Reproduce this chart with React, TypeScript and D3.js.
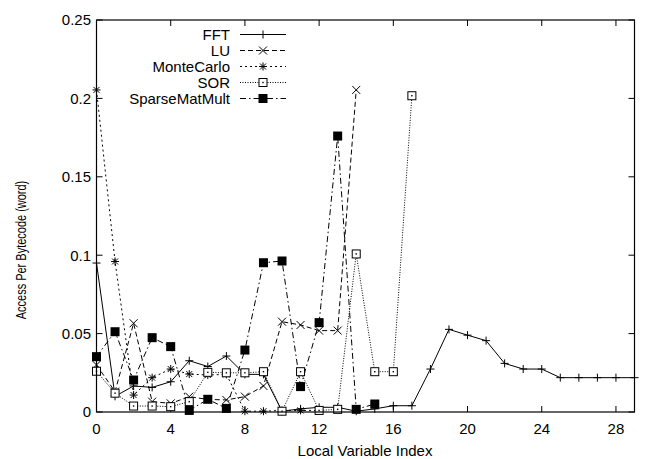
import * as d3 from "d3";

// values, index = local variable index
const fft = [0.095, 0.01, 0.0166, 0.0157, 0.0193, 0.0327, 0.029, 0.0357, 0.024, 0.024, 0.0005, 0.002, 0.003, 0.003, 0.0005, 0.002, 0.004, 0.004, 0.0274, 0.0527, 0.049, 0.0455, 0.031, 0.0274, 0.0274, 0.0219, 0.0219, 0.0219, 0.0219, 0.0219];
const lu = [0.03, 0.013, 0.0566, 0.0066, 0.0055, 0.0098, 0.008, 0.0077, 0.0098, 0.0166, 0.0576, 0.0555, 0.0519, 0.0519, 0.2054];
const monteCarlo = [0.2054, 0.096, 0.0108, 0.0219, 0.0274, 0.0242, 0.0236, 0.024, 0.0005, 0.0005, 0.001, 0.001, 0.001];
const sor = [0.026, 0.012, 0.0038, 0.0038, 0.0034, 0.0066, 0.0253, 0.025, 0.025, 0.0257, 0.0005, 0.0257, 0.001, 0.0017, 0.1008, 0.0257, 0.0257, 0.2017];
const sparseMatMult = [0.0353, 0.0512, 0.0204, 0.0474, 0.0417, 0.001, 0.0081, 0.0023, 0.0395, 0.0952, 0.0963, 0.0162, 0.057, 0.176, 0.0017, 0.0051];

const seriesNames = ["FFT", "LU", "MonteCarlo", "SOR", "SparseMatMult"];
const seriesValues = [fft, lu, monteCarlo, sor, sparseMatMult];
const dashes = ["none", "5,3", "2,3", "1,1.5", "6,3,1.5,3"];
const markers = ["plus", "cross", "star", "box", "filled"];

const xTicks = [0, 4, 8, 12, 16, 20, 24, 28];
const yTicks = [0, 0.05, 0.1, 0.15, 0.2, 0.25];

const W = 645;
const H = 459;
const M = { left: 96.5, right: 10.5, top: 20, bottom: 47 };

const font = "'Liberation Sans', Arial, Helvetica, sans-serif";
const fs = 15;

function Marker({ kind, x, y }: { kind: string; x: number; y: number }) {
  const s = 4;
  if (kind === "plus")
    return <path d={`M${x - s},${y}H${x + s}M${x},${y - s}V${y + s}`} stroke="#000" fill="none" />;
  if (kind === "cross")
    return (
      <path d={`M${x - s},${y - s}L${x + s},${y + s}M${x - s},${y + s}L${x + s},${y - s}`} stroke="#000" fill="none" />
    );
  if (kind === "star")
    return (
      <path
        d={`M${x - s},${y}H${x + s}M${x},${y - s}V${y + s}M${x - s + 1},${y - s + 1}L${x + s - 1},${y + s - 1}M${x - s + 1},${y + s - 1}L${x + s - 1},${y - s + 1}`}
        stroke="#000"
        fill="none"
      />
    );
  if (kind === "box")
    return (
      <g>
        <rect x={x - s} y={y - s} width={2 * s} height={2 * s} stroke="#000" fill="#fff" />
        <rect x={x - 0.7} y={y - 0.7} width={1.4} height={1.4} fill="#000" />
      </g>
    );
  return <rect x={x - s - 0.5} y={y - s - 0.5} width={2 * s + 1} height={2 * s + 1} fill="#000" />;
}

export default function App() {
  const x = d3.scaleLinear().domain([0, 29]).range([M.left, W - M.right]);
  const y = d3.scaleLinear().domain([0, 0.25]).range([H - M.bottom, M.top]);
  const line = d3
    .line<number>()
    .x((_, i) => x(i))
    .y((d) => y(d));

  const legendX = 230;
  const legendY0 = 34.5;
  const legendStep = 16;

  return (
    <svg width={W} height={H} style={{ position: "absolute", left: 0, top: 0 }} fontFamily={font}>
      <rect width={W} height={H} fill="#fff" />
      <defs>
        <clipPath id="plot">
          <rect x={M.left} y={M.top} width={W - M.left - M.right} height={H - M.top - M.bottom} />
        </clipPath>
      </defs>

      {/* ticks, inward and mirrored */}
      {xTicks.map((t) => (
        <g key={"x" + t}>
          <line x1={x(t)} x2={x(t)} y1={y(0)} y2={y(0) - 6} stroke="#000" />
          <line x1={x(t)} x2={x(t)} y1={y(0.25)} y2={y(0.25) + 6} stroke="#000" />
          <text x={x(t)} y={y(0) + 21.5} fontSize={fs} textAnchor="middle">
            {t}
          </text>
        </g>
      ))}
      {yTicks.map((t) => (
        <g key={"y" + t}>
          <line x1={x(0)} x2={x(0) + 6} y1={y(t)} y2={y(t)} stroke="#000" />
          <line x1={x(29)} x2={x(29) - 6} y1={y(t)} y2={y(t)} stroke="#000" />
          <text x={x(0) - 5.5} y={y(t) + 5.4} fontSize={fs} textAnchor="end">
            {t}
          </text>
        </g>
      ))}

      <g clipPath="url(#plot)">
        {seriesValues.map((vals, k) => (
          <path key={k} d={line(vals) ?? ""} fill="none" stroke="#000" strokeWidth={1} strokeDasharray={dashes[k]} />
        ))}
      </g>
      {seriesValues.map((vals, k) => (
        <g key={"m" + k}>
          {vals.map((v, i) => (
            <Marker key={i} kind={markers[k]} x={x(i)} y={y(v)} />
          ))}
        </g>
      ))}

      <rect
        x={M.left}
        y={M.top}
        width={W - M.left - M.right}
        height={H - M.top - M.bottom}
        fill="none"
        stroke="#000"
        strokeWidth={1.2}
      />

      {/* legend */}
      {seriesNames.map((name, k) => {
        const ly = legendY0 + k * legendStep;
        return (
          <g key={name}>
            <text x={legendX} y={ly + 5.4} fontSize={fs} textAnchor="end">
              {name}
            </text>
            <line x1={240} x2={286} y1={ly} y2={ly} stroke="#000" strokeDasharray={dashes[k]} />
            <Marker kind={markers[k]} x={263} y={ly} />
          </g>
        );
      })}

      <text x={365} y={456} fontSize={fs} textAnchor="middle">
        Local Variable Index
      </text>
      <text transform="translate(26,250) rotate(-90) scale(1,1.35)" fontSize={11} textAnchor="middle">
        Access Per Bytecode (word)
      </text>
    </svg>
  );
}
